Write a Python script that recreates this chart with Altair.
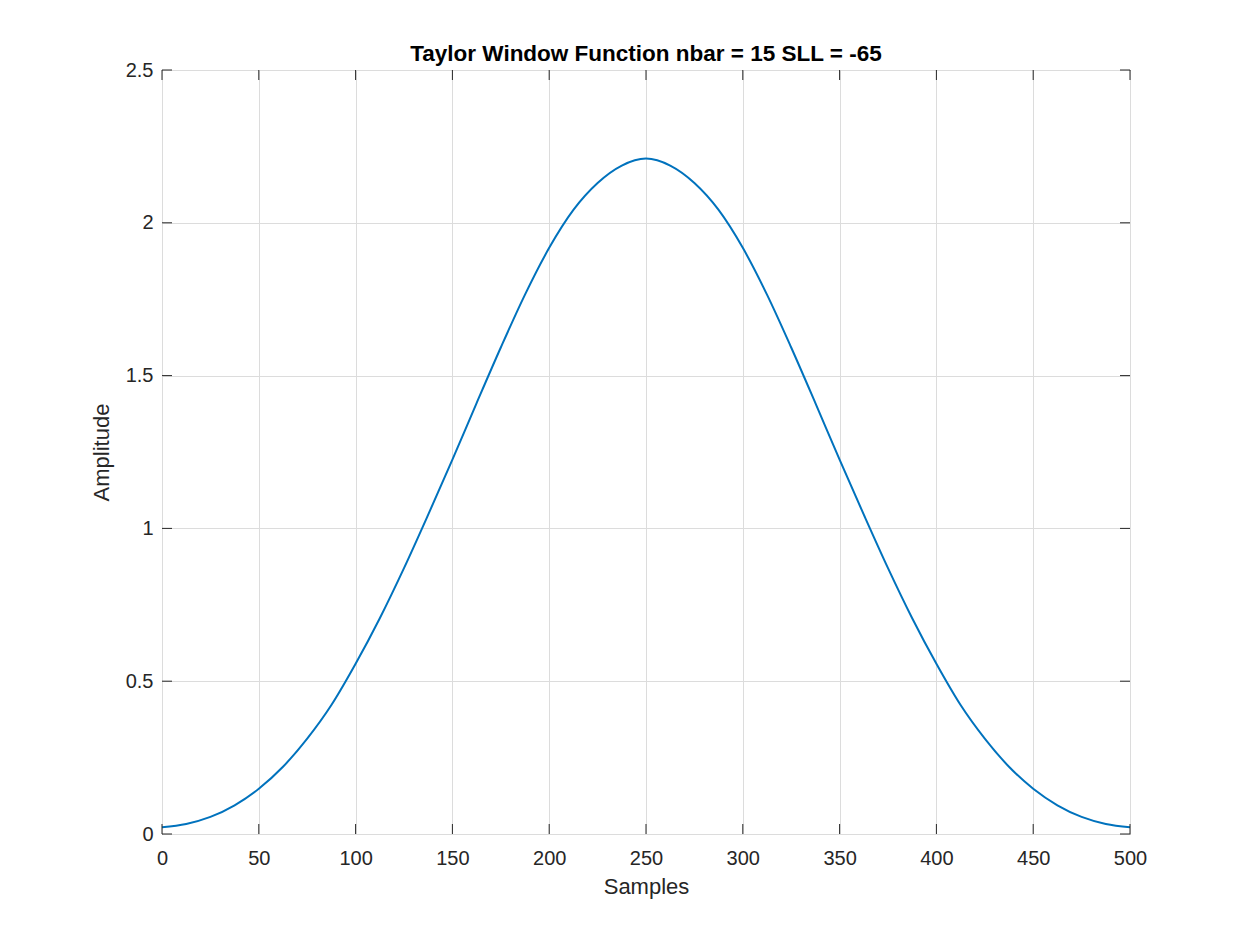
import altair as alt
import pandas as pd

# Values (left half; the curve is symmetric about 250)
left_samples = [0, 12.5, 25, 37.5, 50, 62.5, 75, 87.5, 100, 112.5, 125, 137.5,
                150, 162.5, 175, 187.5, 200, 212.5, 225, 237.5, 250]
left_amps = [0.022, 0.033, 0.056, 0.094, 0.148, 0.220, 0.312, 0.422, 0.557, 0.706,
             0.870, 1.045, 1.225, 1.410, 1.592, 1.765, 1.918, 2.042, 2.130, 2.187, 2.210]

samples = left_samples + [500 - s for s in reversed(left_samples[:-1])]
amplitude = left_amps + list(reversed(left_amps[:-1]))

x_ticks = [0, 50, 100, 150, 200, 250, 300, 350, 400, 450, 500]
y_ticks = [0, 0.5, 1, 1.5, 2, 2.5]

W, H = 968, 764
TXT = "#262626"
FONT = "Liberation Sans"

df = pd.DataFrame({"Samples": samples, "Amplitude": amplitude})
dx = pd.DataFrame({"Samples": x_ticks})
dy = pd.DataFrame({"Amplitude": y_ticks})

xscale = alt.Scale(domain=[0, 500], nice=False, zero=False)
yscale = alt.Scale(domain=[0, 2.5], nice=False)

xaxis = alt.Axis(values=x_ticks, title="Samples", ticks=False, domain=False,
                 labelPadding=14, titlePadding=8, labelFontSize=20,
                 titleFontSize=22, labelFlush=False, format="d")
yaxis = alt.Axis(values=y_ticks, title="Amplitude", ticks=False, domain=False,
                 labelPadding=9, titlePadding=12, labelFontSize=20,
                 titleFontSize=22, labelFlush=False, format="~g")

line = alt.Chart(df).mark_line(color="#0072BD", strokeWidth=2, interpolate="monotone").encode(
    x=alt.X("Samples:Q", scale=xscale, axis=xaxis),
    y=alt.Y("Amplitude:Q", scale=yscale, axis=yaxis),
)

xt_bottom = alt.Chart(dx).mark_rule(color=TXT, strokeWidth=1).encode(
    x=alt.X("Samples:Q", scale=xscale, axis=xaxis), y=alt.value(H), y2=alt.value(H - 10))
xt_top = alt.Chart(dx).mark_rule(color=TXT, strokeWidth=1).encode(
    x=alt.X("Samples:Q", scale=xscale, axis=xaxis), y=alt.value(0), y2=alt.value(10))
yt_left = alt.Chart(dy).mark_rule(color=TXT, strokeWidth=1).encode(
    y=alt.Y("Amplitude:Q", scale=yscale, axis=yaxis), x=alt.value(0), x2=alt.value(10))
yt_right = alt.Chart(dy).mark_rule(color=TXT, strokeWidth=1).encode(
    y=alt.Y("Amplitude:Q", scale=yscale, axis=yaxis), x=alt.value(W), x2=alt.value(W - 10))

chart = alt.layer(line, xt_bottom, xt_top, yt_left, yt_right).properties(
    width=W, height=H,
    background="white",
    title=alt.TitleParams("Taylor Window Function nbar = 15 SLL = -65", fontSize=22.5,
                          fontWeight="bold", font=FONT, color="#000000", offset=-5),
    autosize=alt.AutoSizeParams(type="none"),
    padding={"left": 154, "top": 62, "right": 110, "bottom": 120},
).configure_view(stroke=TXT, strokeWidth=1).configure_axis(
    labelFont=FONT, titleFont=FONT, labelColor=TXT, titleColor=TXT,
    titleFontWeight="normal", gridColor="#dcdcdc", gridOpacity=1, gridWidth=1,
)

chart.save("out.html", embed_options={"renderer": "svg", "actions": False})
